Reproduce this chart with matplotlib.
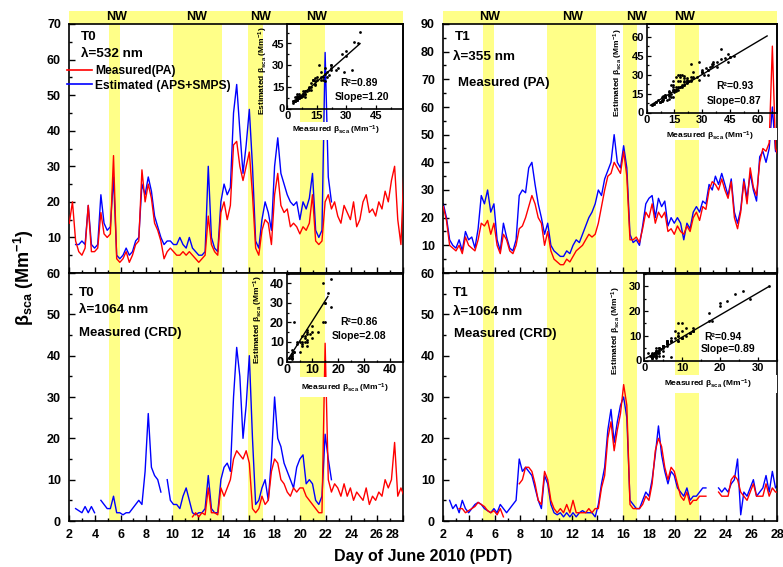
import numpy as np
import matplotlib
matplotlib.use("Agg")
import matplotlib.pyplot as plt
from matplotlib.patches import Rectangle
from matplotlib.ticker import MultipleLocator, FixedLocator
from matplotlib.lines import Line2D
import matplotlib.transforms as mtransforms

nan = np.nan

# ---------------- data ----------------
N = 107
DAYS = 2.0 + 0.2463 * np.arange(N)          # sampling grid, day of June 2010

T0_532_MEAS = [14, 20, 9, 6, 5, 7, 19, 6, 6, 7,
               17, 11, 10, 11, 33, 4, 3, 4, 6, 3,
               5, 8, 9, 29, 20, 25, 21, 14, 12, 9,
               4, 6, 7, 6, 5, 5, 6, 5, 6, 5,
               4, 3, 4, 5, 16, 8, 6, 5, 17, 20,
               15, 19, 36, 37, 30, 26, 30, 34, 22, 7,
               5, 12, 15, 14, 8, 22, 28, 19, 17, 18,
               13, 14, 13, 11, 13, 12, 14, 22, 9, 8,
               9, 20, 22, 18, 20, 16, 14, 19, 17, 15,
               20, 13, 15, 20, 22, 17, 18, 16, 20, 18,
               23, 20, 26, 30, 15, 8, 30]
T0_532_EST = [nan, nan, 8, 8, 9, 8, 19, 8, 7, 8,
              22, 14, 12, 13, 27, 5, 4, 5, 7, 5,
              6, 9, 10, 25, 22, 27, 23, 16, 13, 10,
              8, 9, 9, 8, 8, 10, 8, 7, 10, 7,
              6, 5, 5, 6, 30, 10, 7, 6, 20, 25,
              22, 24, 45, 53, 40, 28, 36, 46, 30, 9,
              7, 15, 20, 17, 12, 30, 38, 28, 25, 22,
              20, 19, 20, 15, 20, 18, 21, 28, 12, 10,
              12, 62, 27, 20] + [nan] * 23

T1_355_MEAS = [24, 19, 10, 9, 8, 10, 7, 13, 10, 9,
               8, 12, 18, 17, 19, 14, 18, 10, 7, 14,
               12, 8, 7, 10, 16, 17, 20, 24, 28, 25,
               20, 18, 10, 15, 8, 5, 4, 3, 3, 5,
               4, 6, 8, 9, 10, 12, 14, 13, 14, 18,
               24, 30, 35, 36, 40, 38, 36, 44, 35, 12,
               12, 13, 11, 16, 22, 20, 25, 18, 22, 20,
               22, 15, 16, 14, 17, 15, 14, 17, 15, 20,
               22, 19, 24, 23, 30, 33, 32, 30, 34, 30,
               27, 33, 20, 16, 22, 33, 25, 38, 31, 28,
               40, 45, 44, 47, 82, 45, 42]
T1_355_EST = [25, 20, 12, 10, 9, 12, 8, 15, 12, 13,
              9, 16, 28, 25, 30, 22, 25, 12, 8, 18,
              13, 9, 8, 12, 28, 30, 29, 38, 40, 32,
              25, 20, 14, 18, 10, 8, 7, 6, 6, 8,
              7, 10, 12, 11, 14, 17, 20, 22, 25, 30,
              28, 34, 37, 40, 50, 40, 38, 46, 38, 14,
              11, 12, 10, 17, 25, 27, 28, 20, 27, 24,
              26, 17, 20, 18, 20, 18, 12, 18, 16, 22,
              24, 22, 26, 25, 32, 30, 35, 32, 36, 32,
              28, 34, 22, 18, 23, 34, 27, 36, 30, 26,
              42, 44, 40, 45, 60, 44, 43]

T0_1064_MEAS = [nan] * 39 + [1,
                2, 1, 2, 1.5, 8, 2, 2, 1.5, 8, 6,
                8, 10, 15, 17, 16, 15, 17, 14, 3, 2,
                3, 6, 4, 5, 12, 15, 14, 10, 9, 7,
                6, 8, 7, 8, 8, 6, 5, 4, 3, 2,
                2, 43, 10, 7, 9, 8, 6, 9, 6, 8,
                5, 7, 6, 5, 8, 4, 6, 5, 7, 6,
                10, 8, 10, 19, 6, 8, 6]
T0_1064_EST = [nan, nan, 3, 2.5, 2, 3.5, 2, 3.5, 2, nan,
               5, 4, 3, 3, 6, 2, 2, 1.5, 2, 2,
               3, 4, 5, 4, 12, 26, 13, 11, 10, 7,
               nan, 10, 5, 4, 4, 3, 6, 8, 5, 2,
               1.5, 2, 2, 3, 11, 3, 2, 2, 10, 13,
               14, 12, 30, 42, 35, 20, 28, 40, 20, 4,
               5, 8, 10, 5, 15, 30, 20, 18, 14, 12,
               10, 8, 13, 15, 16, 9, 10, 9, 5, 4,
               6, 21, 15, 10] + [nan] * 23

T1_1064_MEAS = [nan, nan, nan, nan, nan, 3, 3, 2, 2.5, 3,
                3.5, 4.5, 4, 3.5, 2.5, 2, 2.5, 1.5, 3, 1,
                nan, nan, nan, nan, 9, 10, 13, 13, 12, 9,
                5, 4, 12, 10, 5, 3, 2, 3, 2, 4,
                2, 5, 2, 2, 2, 2, 3, 2, 3, 3,
                8, 11, 20, 24, 17, 22, 26, 33, 28, 4,
                3, 3, 3, 4, 6, 5, 9, 17, 20, 18,
                13, 10, 13, 12, 9, 6, 5, 7, 4, 5,
                5, 6, 6, 6, nan, nan, nan, 7, 6, 6,
                6, 10, 11, 10, 7, 6, 5, 7, 9, 6,
                6, 6, 9, 6, 8, 7, 7]
T1_1064_EST = [nan, nan, 5, 3, 4, 2, 5, 3, 2, 3,
               4, 4.5, 4, 3, 2.5, 2, 3, 2, 4, 3,
               2, 3, 4, 5, 15, 12, 13, 12, 11, 8,
               5, 3, 11, 9, 4, 2, 1.5, 2, 1, 2,
               1, 2, 1, 2, 2.5, 2, 2, 2, 1, 4,
               9, 13, 22, 27, 19, 24, 28, 30, 25, 5,
               4, 3, 3, 5, 7, 6, 10, 16, 23, 16,
               12, 9, 12, 11, 8, 7, 6, 8, 5, 6,
               6, 7, 8, 8, nan, nan, nan, 8, 7, 8,
               7, 9, 10, 15, 1.5, 7, 6, 8, 10, 6,
               7, 8, 11, 7, 12, 8, 9]

NW_BANDS = [(5.1, 5.97), (10.08, 13.92), (15.95, 17.1), (20.0, 21.93)]
NW_LABEL_DAYS_LEFT = [5.70, 11.94, 16.93, 21.27]
NW_LABEL_DAYS_RIGHT = [5.63, 12.04, 17.07, 20.81]

FIT_T0_532 = (1.20, 0.5, 3.5, 37)     # slope, intercept, x from, x to
FIT_T1_355 = (0.87, 4.0, 2.0, 65)
FIT_T0_1064 = (2.08, 0.0, 1.0, 16)
FIT_T1_1064 = (0.89, 0.5, 0.5, 33)
STATS = {"T0_532": ("R²=0.89", "Slope=1.20"), "T1_355": ("R²=0.93", "Slope=0.87"),
         "T0_1064": ("R²=0.86", "Slope=2.08"), "T1_1064": ("R²=0.94", "Slope=0.89")}

# ---------------- style ----------------
plt.rcParams['font.family'] = ['Liberation Sans', 'DejaVu Sans']
plt.rcParams['font.weight'] = 'bold'
plt.rcParams['mathtext.default'] = 'regular'
plt.rcParams['axes.linewidth'] = 1.2

YELLOW = '#ffff88'
RED = '#ff0000'
BLUE = '#0000ff'
W, H = 783, 567

fig = plt.figure(figsize=(W / 100, H / 100), dpi=100)


def fbox(x0, y0, x1, y1):
    return [x0 / W, 1 - y1 / H, (x1 - x0) / W, (y1 - y0) / H]


def ftext(x, y, s, **kw):
    kw.setdefault('zorder', 5)
    return fig.text(x / W, 1 - y / H, s, **kw)


def main_panel(rect, meas, est, ylim, ymajor, top, nw_days, texts, shift_last=False):
    ax = fig.add_axes(rect)
    ax.set_xlim(2, 28)
    ax.set_ylim(*ylim)
    for a, b in NW_BANDS:
        ax.axvspan(a, b, color=YELLOW, lw=0, zorder=0)
    ax.plot(DAYS, est, color=BLUE, lw=1.0, zorder=2)
    ax.plot(DAYS, meas, color=RED, lw=1.0, zorder=3)
    ax.set_xticks(np.arange(2, 29, 2))
    ax.xaxis.set_minor_locator(MultipleLocator(1))
    ax.yaxis.set_major_locator(FixedLocator(ymajor))
    ax.yaxis.set_minor_locator(MultipleLocator(5))
    ax.tick_params(which='both', direction='in', top=False, right=False,
                   width=1.0, labelsize=9, pad=6.0)
    ax.tick_params(which='major', length=4.5)
    ax.tick_params(which='minor', length=2.5)
    if top:
        ax.tick_params(labelbottom=False)
        hh = 13 / 249
        ax.add_patch(Rectangle((0, 1), 1, hh, transform=ax.transAxes, facecolor=YELLOW,
                               edgecolor='none', clip_on=False, zorder=1))
        trans = mtransforms.blended_transform_factory(ax.transData, ax.transAxes)
        for d in nw_days:
            ax.text(d, 1 + 6.5 / 249, 'NW', transform=trans, ha='center', va='center',
                    fontsize=9, fontweight='bold', clip_on=False)
    for s, x, y, fs in texts:
        ax.text(x, y, s, transform=ax.transAxes, ha='left', va='center', fontsize=fs,
                fontweight='bold')
    if shift_last:
        lab = ax.xaxis.get_major_ticks()[-1].label1
        lab.set_transform(lab.get_transform() +
                          mtransforms.ScaledTranslation(-10 / 100, 0, fig.dpi_scale_trans))
    return ax


def inset(rect, meas, est, xlim, ylim, ticks, minor, fit, stats, lsize, cut=None):
    ia = fig.add_axes(rect, zorder=3)
    ia.patch.set_alpha(0)
    x = np.array(meas, float)
    y = np.array(est, float)
    m = np.isfinite(x) & np.isfinite(y)
    if cut is not None:
        m &= x <= cut
    ia.plot(x[m], y[m], 'o', ms=2.0, mew=0, color='k')
    sl, b, x0, x1 = fit
    xs = np.array([x0, x1])
    ia.plot(xs, sl * xs + b, color='k', lw=1.0)
    ia.set_xlim(*xlim)
    ia.set_ylim(*ylim)
    ia.set_xticks(ticks)
    ia.set_yticks(ticks)
    ia.xaxis.set_minor_locator(MultipleLocator(minor))
    ia.yaxis.set_minor_locator(MultipleLocator(minor))
    ia.tick_params(which='both', direction='in', width=0.9, labelsize=lsize)
    ia.tick_params(which='major', length=3)
    ia.tick_params(which='minor', length=1.6)
    ia.tick_params(axis='x', pad=1.5)
    ia.tick_params(axis='y', pad=2.0)
    for sp in ia.spines.values():
        sp.set_linewidth(1.2)
    return ia


def white(x0, y0, x1, y1):
    fig.add_artist(Rectangle((x0 / W, 1 - y1 / H), (x1 - x0) / W, (y1 - y0) / H,
                             transform=fig.transFigure, facecolor='white',
                             edgecolor='none', zorder=1))


MEAS_LBL = 'Measured β$_{sca}$ (Mm$^{-1}$)'
EST_LBL = 'Estimated β$_{sca}$ (Mm$^{-1}$)'

# ---------------- top-left: T0 532 nm ----------------
ax1 = main_panel(fbox(69.3, 24, 402.7, 273), T0_532_MEAS, T0_532_EST, (0, 70),
                 range(10, 71, 10), True, NW_LABEL_DAYS_LEFT,
                 [('T0', 0.035, 0.948, 9.7), ('λ=532 nm', 0.035, 0.878, 9.7)])
ax1.legend([Line2D([], [], color=RED, lw=1.2), Line2D([], [], color=BLUE, lw=1.2)],
           ['Measured(PA)', 'Estimated (APS+SMPS)'], loc='upper left',
           bbox_to_anchor=(-0.007, 0.835), frameon=False, fontsize=8.7,
           handlelength=2.1, handletextpad=0.25, labelspacing=0.2, borderpad=0,
           borderaxespad=0)

# ---------------- top-right: T1 355 nm ----------------
ax2 = main_panel(fbox(443.3, 24, 777.3, 273), T1_355_MEAS, T1_355_EST, (0, 90),
                 range(10, 91, 10), True, NW_LABEL_DAYS_RIGHT,
                 [('T1', 0.035, 0.949, 9.7), ('λ=355 nm', 0.03, 0.866, 9.7),
                  ('Measured (PA)', 0.043, 0.765, 9.5)])

# ---------------- bottom-left: T0 1064 nm ----------------
ax3 = main_panel(fbox(69.3, 273, 402.7, 521), T0_1064_MEAS, T0_1064_EST, (0, 60),
                 range(0, 61, 10), False, None,
                 [('T0', 0.03, 0.918, 9.7), ('λ=1064 nm', 0.03, 0.851, 9.7),
                  ('Measured (CRD)', 0.03, 0.759, 9.5)], shift_last=True)

# ---------------- bottom-right: T1 1064 nm ----------------
ax4 = main_panel(fbox(443.3, 273, 777.3, 521), T1_1064_MEAS, T1_1064_EST, (0, 60),
                 range(0, 61, 10), False, None,
                 [('T1', 0.03, 0.921, 9.7), ('λ=1064 nm', 0.03, 0.844, 9.7),
                  ('Measured (CRD)', 0.032, 0.754, 9.5)])

# ---------------- white label backgrounds of the insets ----------------
white(287, 122, 402, 140)
white(646, 128, 777, 140)
white(287, 377, 402, 397)
white(644, 375, 777, 393)

# ---------------- insets ----------------
inset(fbox(287.3, 24, 402.7, 108.5), T0_532_MEAS, T0_532_EST, (0, 58.7), (0, 58.5),
      [0, 15, 30, 45], 7.5, FIT_T0_532, STATS["T0_532"], 8)
ftext(359, 83.3, STATS["T0_532"][0], ha='center', va='center', fontsize=7.5)
ftext(361.7, 96.7, STATS["T0_532"][1], ha='center', va='center', fontsize=7.5)
ftext(336, 130, MEAS_LBL, ha='center', va='center', fontsize=6)
ftext(263, 71, EST_LBL, ha='center', va='center', fontsize=6, rotation=90)

inset(fbox(646.7, 24, 777.3, 112.5), T1_355_MEAS, T1_355_EST, (0, 70.5), (0, 70),
      [0, 15, 30, 45, 60], 7.5, FIT_T1_355, STATS["T1_355"], 8)
ftext(735, 86, STATS["T1_355"][0], ha='center', va='center', fontsize=7.5)
ftext(734, 101, STATS["T1_355"][1], ha='center', va='center', fontsize=7.5)
ftext(710, 136, MEAS_LBL, ha='center', va='center', fontsize=6)
ftext(618, 73, EST_LBL, ha='center', va='center', fontsize=6, rotation=90)

inset(fbox(286.7, 273.5, 402.7, 361.5), T0_1064_MEAS, T0_1064_EST, (0, 45), (0, 45),
      [0, 10, 20, 30, 40], 5, FIT_T0_1064, STATS["T0_1064"], 9, cut=20)
ftext(359, 322, STATS["T0_1064"][0], ha='center', va='center', fontsize=7.5)
ftext(359, 336, STATS["T0_1064"][1], ha='center', va='center', fontsize=7.5)
ftext(345, 388, MEAS_LBL, ha='center', va='center', fontsize=6)
ftext(258, 320, EST_LBL, ha='center', va='center', fontsize=6, rotation=90)

inset(fbox(644.3, 273.5, 777.3, 360.5), T1_1064_MEAS, T1_1064_EST, (0, 35.2), (0, 35.1),
      [0, 10, 20, 30], 5, FIT_T1_1064, STATS["T1_1064"], 8)
ftext(723, 337, STATS["T1_1064"][0], ha='center', va='center', fontsize=7.5)
ftext(728, 348.5, STATS["T1_1064"][1], ha='center', va='center', fontsize=7.5)
ftext(708, 384, MEAS_LBL, ha='center', va='center', fontsize=6)
ftext(616, 331, EST_LBL, ha='center', va='center', fontsize=6, rotation=90)

# ---------------- shared axis labels ----------------
ftext(24, 278, 'β$_{sca}$ (Mm$^{-1}$)', ha='center', va='center', fontsize=13, rotation=90)
ftext(423, 557, 'Day of June 2010 (PDT)', ha='center', va='center', fontsize=11.5)

fig.savefig('out.png', dpi=100)
